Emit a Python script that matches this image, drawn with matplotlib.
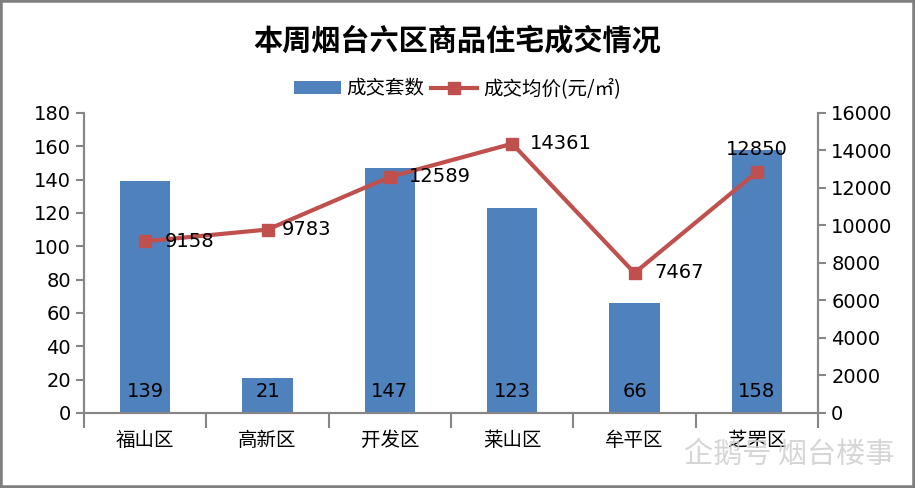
import matplotlib
matplotlib.use("Agg")
import matplotlib.pyplot as plt
from matplotlib.patches import Rectangle
import numpy as np

plt.rcParams['font.family'] = ['DejaVu Sans', 'Noto Sans CJK SC']

categories = ["福山区", "高新区", "开发区", "莱山区", "牟平区", "芝罘区"]
deals = [139, 21, 147, 123, 66, 158]
avg_price = [9158, 9783, 12589, 14361, 7467, 12850]

title = "本周烟台六区商品住宅成交情况"
bar_label = "成交套数"
line_label = "成交均价(元/㎡)"

bar_color = "#4F81BD"
line_color = "#C0504D"
axis_color = "#868686"
cjk = ['Noto Sans CJK SC', 'DejaVu Sans']

fig = plt.figure(figsize=(9.15, 4.88), dpi=100)
ax = fig.add_axes([0.0918, 0.1537, 0.8022, 0.6148])
ax2 = ax.twinx()

x = np.arange(len(categories))
bars = ax.bar(x, deals, width=0.41, color=bar_color, zorder=2, label=bar_label)
ax.set_xlim(-0.5, len(categories) - 0.5)
ax.set_ylim(0, 180)
ax.set_yticks(np.arange(0, 181, 20))
ax2.set_ylim(0, 16000)
ax2.set_yticks(np.arange(0, 16001, 2000))

line, = ax2.plot(x, avg_price, color=line_color, lw=3, marker='s', ms=8,
                 label=line_label, zorder=3)

for xi, v in zip(x, deals):
    ax.text(xi, 13, str(v), ha='center', va='center', fontsize=14, color='black', zorder=4)

offsets = [(14, 0), (10, 0), (14, 0), (13, 0), (14, 0), (0, 16)]
has = ['left', 'left', 'left', 'left', 'left', 'center']
for xi, v, off, h in zip(x, avg_price, offsets, has):
    ax2.annotate(str(v), (xi, v), xytext=off, textcoords='offset points',
                 ha=h, va='center', fontsize=14, color='black', zorder=5)

for a in (ax, ax2):
    a.spines['top'].set_visible(False)
    for s in ('left', 'right', 'bottom'):
        a.spines[s].set_color(axis_color)
        a.spines[s].set_linewidth(1.5)
    a.tick_params(axis='y', colors=axis_color, labelcolor='black', labelsize=14,
                  length=6, width=1.5)

ax.set_xticks(x)
ax.set_xticklabels(categories, fontsize=14, family=cjk)
ax.tick_params(axis='x', length=0, pad=12)
ax.set_xticks(np.arange(-0.5, len(categories), 1.0), minor=True)
ax.tick_params(axis='x', which='minor', length=11, width=1.5, color=axis_color)

fig.text(0.5, 0.918, title, ha='center', va='center', fontsize=21,
         fontweight='bold', family=cjk)

fig.legend(handles=[bars, line], labels=[bar_label, line_label],
           loc='center', bbox_to_anchor=(0.5, 0.818), ncol=2, frameon=False,
           prop={'family': cjk, 'size': 14}, handlelength=2.4,
           columnspacing=0.3, handletextpad=0.3)

fig.text(0.978, 0.068, "企鹅号 烟台楼事", ha='right', va='center', fontsize=21,
         color='#cfcfcf', alpha=0.85, family=cjk)

fig.patches.append(Rectangle((0, 0), 1, 1, transform=fig.transFigure,
                             fill=False, edgecolor='#808080', lw=4))

fig.savefig("out.png", dpi=100)
